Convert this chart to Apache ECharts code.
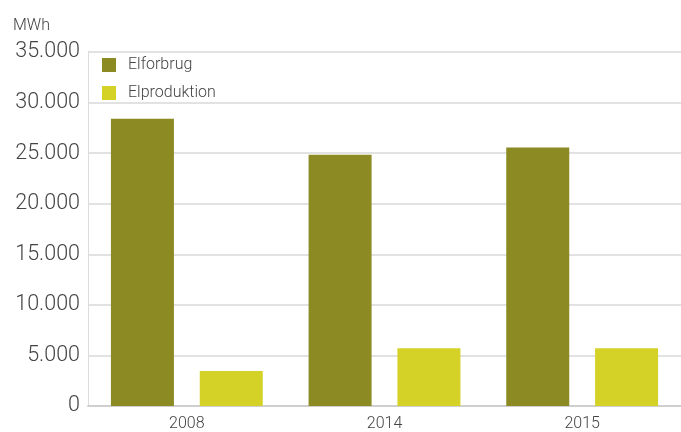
<!DOCTYPE html>
<html>
<head>
<meta charset="utf-8">
<script src="https://cdn.jsdelivr.net/npm/echarts@6/dist/echarts.min.js"></script>
<style>
  html, body { margin: 0; padding: 0; background: #fff; }
  #chart { width: 681px; height: 432px; }
</style>
</head>
<body>
<div id="chart"></div>
<script>
var years = ['2008', '2014', '2015'];
var elforbrug = [28400, 24850, 25550];
var elproduktion = [3450, 5700, 5700];
var seriesNames = ['Elforbrug', 'Elproduktion'];

var myChart = echarts.init(document.getElementById('chart'));

function fmt(v) {
    // danish thousand separator
    return String(v).replace(/\B(?=(\d{3})+(?!\d))/g, '.');
}

var option = {
    animation: false,
    textStyle: { fontFamily: 'Roboto', color: '#444' },
    grid: { left: 88, right: 0, top: 52, bottom: 25 },
    legend: {
        orient: 'vertical',
        left: 102,
        top: 57,
        padding: 0,
        itemWidth: 14,
        itemHeight: 14,
        itemGap: 12,
        icon: 'rect',
        textStyle: { fontSize: 16, lineHeight: 14, color: '#444', fontWeight: 300, padding: [0, 0, 0, 7] },
        data: seriesNames
    },
    xAxis: {
        type: 'category',
        data: years,
        axisLine: { lineStyle: { color: '#cfcfcf', width: 2 } },
        axisTick: { show: false },
        axisLabel: { fontSize: 16, color: '#444', fontWeight: 300, margin: 10 }
    },
    yAxis: {
        type: 'value',
        min: 0,
        max: 35000,
        interval: 5000,
        name: 'MWh',
        nameLocation: 'end',
        nameGap: 18,
        nameTextStyle: { fontSize: 16, color: '#444', fontWeight: 300, align: 'left', padding: [0, 0, 0, -75] },
        axisLine: { show: true, lineStyle: { color: '#dcdcdc', width: 1 } },
        axisTick: { show: false },
        splitLine: { lineStyle: { color: '#d9d9d9', width: 1.5 } },
        axisLabel: { fontSize: 21.5, color: '#444', fontWeight: 300, margin: 8, formatter: fmt }
    },
    series: [
        {
            name: seriesNames[0],
            type: 'bar',
            data: elforbrug,
            barWidth: 63,
            barGap: '41%',
            itemStyle: { color: '#8c8a23' }
        },
        {
            name: seriesNames[1],
            type: 'bar',
            data: elproduktion,
            barWidth: 63,
            itemStyle: { color: '#d5d227' }
        }
    ]
};
myChart.setOption(option);
</script>
</body>
</html>
